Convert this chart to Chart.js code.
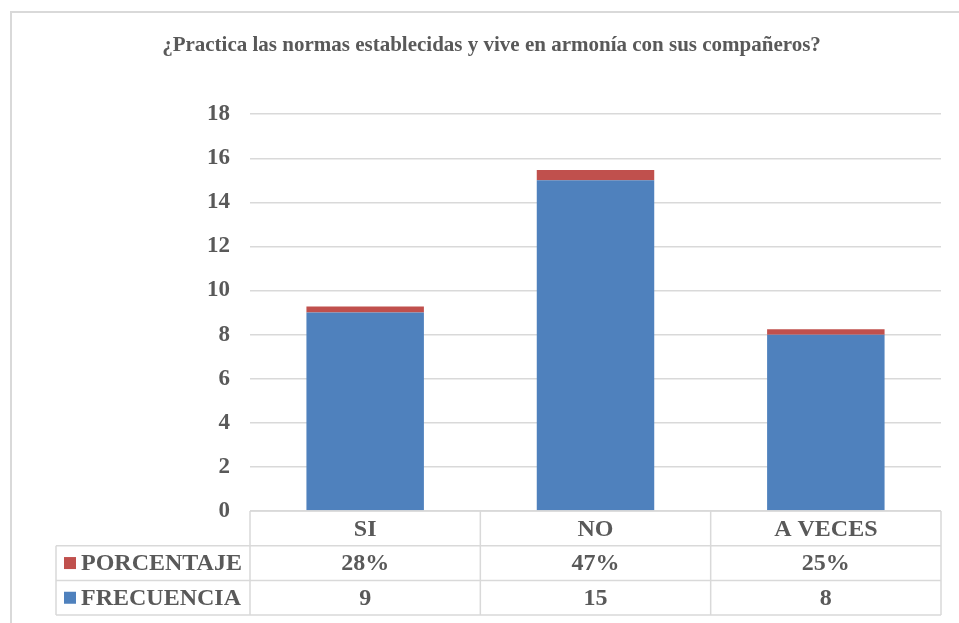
<!DOCTYPE html>
<html>
<head>
<meta charset="utf-8">
<script src="https://cdn.jsdelivr.net/npm/chart.js@4.4.1/dist/chart.umd.min.js"></script>
<style>
  html, body { margin: 0; padding: 0; background: #fff; }
  #wrap { position: relative; width: 959px; height: 623px; overflow: hidden; }
  #frame { position: absolute; left: 10px; top: 11px; width: 1000px; height: 700px;
           border-left: 2px solid #d9d9d9; border-top: 2px solid #d9d9d9; }
  #chart { position: absolute; left: 0; top: 0; }
</style>
</head>
<body>
<div id="wrap">
  <div id="frame"></div>
  <canvas id="chart" width="959" height="623"></canvas>
</div>
<script>
// data
const categories = ['SI', 'NO', 'A VECES'];
const frecuencia = [9, 15, 8];
const porcentaje = [0.28, 0.47, 0.25];
const seriesNames = ['PORCENTAJE', 'FRECUENCIA'];
const yMax = 18;
const yStep = 2;

const FONT = '"Liberation Serif", "Times New Roman", serif';
const TEXT = '#595959';
const GRID = '#d9d9d9';
const BLUE = '#4f81bd';
const RED = '#c0504d';

// rows of the data table under the plot
const tableRows = [
  { name: seriesNames[0], color: RED, values: porcentaje.map(p => Math.round(p * 100) + '%') },
  { name: seriesNames[1], color: BLUE, values: frecuencia.map(v => String(v)) }
];

const dataTable = {
  id: 'dataTable',
  afterDraw(chart) {
    const ctx = chart.ctx;
    const area = chart.chartArea;
    const x = chart.scales.x;
    const rowH = 34.7;
    const top = area.bottom;
    const headLeft = 56;
    const colW = (area.right - area.left) / categories.length;

    ctx.save();
    ctx.strokeStyle = GRID;
    ctx.lineWidth = 1.5;

    // horizontal lines
    for (let r = 0; r <= 3; r++) {
      const y = top + r * rowH;
      ctx.beginPath();
      ctx.moveTo(r === 0 ? area.left : headLeft, y);
      ctx.lineTo(area.right, y);
      ctx.stroke();
    }
    // vertical lines of value columns
    for (let c = 0; c <= categories.length; c++) {
      const xx = area.left + c * colW;
      ctx.beginPath();
      ctx.moveTo(xx, top);
      ctx.lineTo(xx, top + 3 * rowH);
      ctx.stroke();
    }
    // left edge of row headers
    ctx.beginPath();
    ctx.moveTo(headLeft, top + rowH);
    ctx.lineTo(headLeft, top + 3 * rowH);
    ctx.stroke();

    ctx.fillStyle = TEXT;
    ctx.font = 'bold 24px ' + FONT;
    ctx.textAlign = 'center';
    ctx.textBaseline = 'middle';

    categories.forEach((cat, i) => {
      ctx.fillText(cat, x.getPixelForValue(i), top + rowH / 2 + 1);
    });

    tableRows.forEach((row, r) => {
      const cy = top + (r + 1.5) * rowH + 1;
      row.values.forEach((v, i) => {
        ctx.fillStyle = TEXT;
        ctx.textAlign = 'center';
        ctx.fillText(v, x.getPixelForValue(i), cy);
      });
      ctx.fillStyle = row.color;
      ctx.fillRect(64, cy - 7, 12, 12);
      ctx.fillStyle = TEXT;
      ctx.textAlign = 'left';
      ctx.fillText(row.name, 81, cy);
    });
    ctx.restore();
  }
};

new Chart(document.getElementById('chart'), {
  type: 'bar',
  data: {
    labels: categories,
    datasets: [{
      label: seriesNames[1],
      data: frecuencia,
      backgroundColor: BLUE,
      borderWidth: 0,
      barPercentage: 0.51,
      categoryPercentage: 1
    }, {
      label: seriesNames[0],
      data: porcentaje,
      backgroundColor: RED,
      borderWidth: 0,
      barPercentage: 0.51,
      categoryPercentage: 1
    }]
  },
  options: {
    responsive: false,
    animation: false,
    layout: { padding: { left: 42, right: 18, top: 0, bottom: 112 } },
    plugins: {
      legend: { display: false },
      tooltip: { enabled: false },
      title: {
        display: true,
        text: '¿Practica las normas establecidas y vive en armonía con sus compañeros?',
        color: TEXT,
        font: { family: FONT, size: 21, weight: 'bold', lineHeight: 1.2 },
        padding: { top: 33, bottom: 56 }
      }
    },
    scales: {
      x: {
        display: false,
        stacked: true
      },
      y: {
        stacked: true,
        min: 0,
        max: yMax,
        border: { display: false },
        grid: { color: GRID, lineWidth: 1.5, drawTicks: false },
        ticks: {
          stepSize: yStep,
          padding: 20,
          color: TEXT,
          font: { family: FONT, size: 23, weight: 'bold' }
        },
        afterFit(scale) { scale.width = 208; }
      }
    }
  },
  plugins: [dataTable]
});
</script>
</body>
</html>
